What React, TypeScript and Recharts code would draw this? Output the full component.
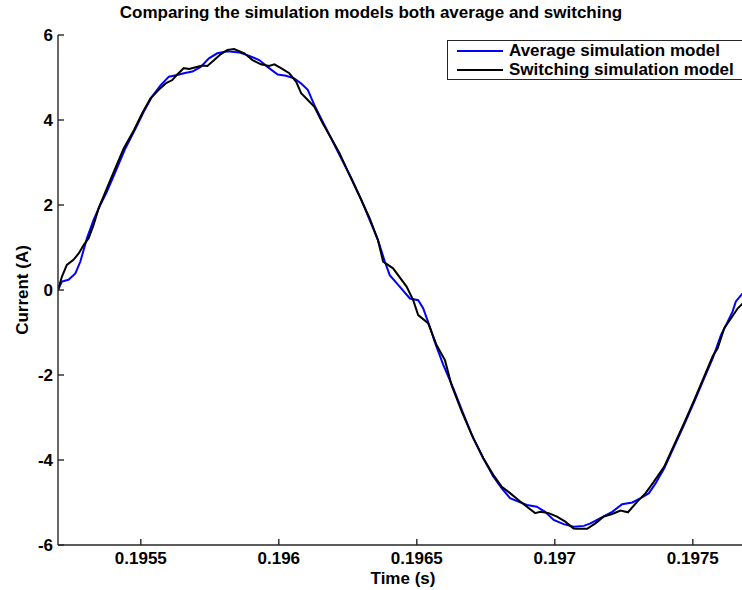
import { LineChart, Line, XAxis, YAxis } from "recharts";

// time (s) and current (A)
const avgTime = [
  0.1952, 0.195214, 0.195238, 0.195263, 0.195281, 0.195305, 0.195329, 0.195353, 0.195377, 0.195408,
  0.195444, 0.195481, 0.195511, 0.195541, 0.195572, 0.195602, 0.195632, 0.195656, 0.195687, 0.195717,
  0.195747, 0.195777, 0.195814, 0.195856, 0.195893, 0.195929, 0.195959, 0.195996, 0.196026, 0.196056,
  0.196081, 0.196105, 0.196129, 0.196159, 0.196196, 0.196226, 0.196263, 0.196299, 0.196329, 0.196359,
  0.196384, 0.196402, 0.196438, 0.196475, 0.196505, 0.196523, 0.196547, 0.196565, 0.196596, 0.196632,
  0.196668, 0.196705, 0.196741, 0.196777, 0.196808, 0.196838, 0.196868, 0.196899, 0.196935, 0.196965,
  0.196996, 0.197032, 0.197068, 0.197105, 0.197129, 0.197165, 0.197208, 0.197244, 0.197281, 0.197311,
  0.197341, 0.197365, 0.197396, 0.197432, 0.197468, 0.197505, 0.197541, 0.197572, 0.197602, 0.197626,
  0.197644, 0.197656, 0.197675, 0.197693,
];
const avgCurrent = [
  0, 0.2, 0.24, 0.39, 0.67, 1.22, 1.65, 2.0, 2.31, 2.78,
  3.33, 3.8, 4.2, 4.55, 4.82, 5.02, 5.06, 5.1, 5.14, 5.25,
  5.45, 5.57, 5.62, 5.59, 5.51, 5.41, 5.25, 5.07, 5.04, 4.98,
  4.86, 4.71, 4.35, 3.96, 3.49, 3.1, 2.63, 2.12, 1.65, 1.18,
  0.67, 0.35, 0.08, -0.2, -0.24, -0.43, -0.86, -1.22, -1.76, -2.31,
  -2.9, -3.49, -3.96, -4.39, -4.67, -4.9, -4.98, -5.06, -5.1, -5.22,
  -5.41, -5.51, -5.57, -5.55, -5.49, -5.37, -5.22, -5.04, -5.0, -4.9,
  -4.78, -4.55, -4.2, -3.69, -3.18, -2.63, -2.08, -1.61, -1.06, -0.75,
  -0.51, -0.27, -0.12, 0.0,
];

const swTime = [
  0.1952, 0.195214, 0.195232, 0.195256, 0.195275, 0.195293, 0.195311, 0.195329, 0.195347, 0.195377,
  0.195402, 0.195438, 0.195475, 0.195505, 0.195535, 0.195565, 0.19559, 0.195614, 0.195632, 0.195656,
  0.195675, 0.195699, 0.195723, 0.195741, 0.195766, 0.19579, 0.195814, 0.195838, 0.195875, 0.195905,
  0.195935, 0.195965, 0.195984, 0.196008, 0.196038, 0.196063, 0.196081, 0.196105, 0.196129, 0.196159,
  0.19619, 0.19622, 0.196256, 0.196293, 0.196329, 0.196359, 0.196378, 0.196414, 0.196463, 0.196487,
  0.196505, 0.196541, 0.196572, 0.196602, 0.196626, 0.196663, 0.196699, 0.196741, 0.196777, 0.196808,
  0.196838, 0.196868, 0.196899, 0.196929, 0.196947, 0.196978, 0.197008, 0.197038, 0.197068, 0.197081,
  0.197117, 0.197147, 0.197178, 0.197208, 0.197238, 0.197265, 0.197299, 0.197329, 0.197359, 0.197396,
  0.197432, 0.197468, 0.197505, 0.197541, 0.197572, 0.19759, 0.197614, 0.197638, 0.197663, 0.197682,
  0.1977,
];
const swCurrent = [
  0, 0.31, 0.59, 0.71, 0.86, 1.06, 1.22, 1.53, 1.92, 2.39,
  2.78, 3.33, 3.76, 4.16, 4.51, 4.71, 4.86, 4.94, 5.07, 5.22,
  5.2, 5.24, 5.28, 5.27, 5.41, 5.55, 5.65, 5.67, 5.57, 5.41,
  5.31, 5.27, 5.31, 5.22, 5.1, 4.9, 4.63, 4.47, 4.31, 3.92,
  3.57, 3.22, 2.71, 2.2, 1.69, 1.18, 0.67, 0.51, 0.08, -0.24,
  -0.59, -0.78, -1.3, -1.65, -2.24, -2.86, -3.41, -3.96, -4.35, -4.63,
  -4.78, -4.94, -5.1, -5.25, -5.22, -5.25, -5.33, -5.45, -5.61, -5.62,
  -5.62, -5.49, -5.33, -5.27, -5.19, -5.23, -4.98, -4.78, -4.51, -4.16,
  -3.65, -3.14, -2.59, -2.04, -1.56, -1.37, -0.9, -0.67, -0.43, -0.31,
  -0.15,
];

const timeTicks = [0.1955, 0.196, 0.1965, 0.197, 0.1975];
const timeTickLabels = ["0.1955", "0.196", "0.1965", "0.197", "0.1975"];
const currentTicks = [-6, -4, -2, 0, 2, 4, 6];
const seriesNames = ["Average simulation model", "Switching simulation model"];
const seriesColors = ["#0000ff", "#000000"];

const avgData = avgTime.map((t, k) => ({ t, amp: avgCurrent[k] }));
const swData = swTime.map((t, k) => ({ t, amp: swCurrent[k] }));

const FONT = '"Liberation Sans", Arial, Helvetica, sans-serif';
const tickStyle = { fill: "#000", fontSize: 17, fontWeight: 700, fontFamily: FONT };
const axisColor = "#262626";

const timeLabel = (v: number) => {
  const k = timeTicks.findIndex((x) => Math.abs(x - v) < 1e-9);
  return k >= 0 ? timeTickLabels[k] : "";
};

export default function App() {
  return (
    <div
      style={{
        position: "absolute",
        left: 0,
        top: 0,
        width: 742,
        height: 590,
        overflow: "hidden",
        background: "#fff",
        fontFamily: FONT,
      }}
    >
      <div
        style={{
          position: "absolute",
          left: 0,
          width: 742,
          top: 4,
          textAlign: "center",
          fontSize: 17,
          fontWeight: 700,
          lineHeight: "17px",
          color: "#000",
        }}
      >
        Comparing the simulation models both average and switching
      </div>

      <LineChart width={760} height={590} margin={{ top: 35, right: 12, bottom: 0, left: 0 }}>
        <XAxis
          xAxisId="bottom"
          dataKey="t"
          type="number"
          domain={[0.1952, 0.1977]}
          allowDataOverflow
          ticks={timeTicks}
          tickFormatter={timeLabel}
          height={45}
          tickSize={-6}
          tickMargin={13}
          tick={tickStyle}
          stroke={axisColor}
          strokeWidth={1.4}
          label={{
            value: "Time (s)",
            position: "insideBottom",
            offset: 6,
            style: { fill: "#000", fontSize: 17, fontWeight: 700, fontFamily: FONT },
          }}
        />
        <XAxis
          xAxisId="top"
          orientation="top"
          dataKey="t"
          type="number"
          domain={[0.1952, 0.1977]}
          allowDataOverflow
          ticks={timeTicks}
          tickFormatter={() => ""}
          height={0}
          tickSize={-6}
          stroke={axisColor}
          strokeWidth={1.4}
        />
        <YAxis
          yAxisId="left"
          type="number"
          domain={[-6, 6]}
          allowDataOverflow
          ticks={currentTicks}
          width={58}
          tickSize={-6}
          tickMargin={11}
          tick={tickStyle}
          stroke={axisColor}
          strokeWidth={1.4}
          label={{
            value: "Current (A)",
            angle: -90,
            position: "insideLeft",
            offset: 22,
            style: { textAnchor: "middle", fill: "#000", fontSize: 17, fontWeight: 700, fontFamily: FONT },
          }}
        />
        <Line
          xAxisId="bottom"
          yAxisId="left"
          data={avgData}
          dataKey="amp"
          name={seriesNames[0]}
          type="linear"
          stroke={seriesColors[0]}
          strokeWidth={2}
          dot={false}
          isAnimationActive={false}
        />
        <Line
          xAxisId="bottom"
          yAxisId="left"
          data={swData}
          dataKey="amp"
          name={seriesNames[1]}
          type="linear"
          stroke={seriesColors[1]}
          strokeWidth={2}
          dot={false}
          isAnimationActive={false}
        />
      </LineChart>

      <div
        style={{
          position: "absolute",
          left: 447,
          top: 40,
          width: 297,
          height: 40,
          boxSizing: "border-box",
          border: `1.4px solid ${axisColor}`,
          background: "#fff",
        }}
      >
        {seriesNames.map((name, k) => (
          <div
            key={name}
            style={{
              position: "absolute",
              left: 9,
              top: 0 + k * 19,
              height: 19,
              lineHeight: "19px",
              display: "flex",
              alignItems: "center",
              whiteSpace: "nowrap",
            }}
          >
            <span style={{ display: "inline-block", width: 46, height: 2, background: seriesColors[k] }} />
            <span style={{ marginLeft: 6, fontSize: 17, fontWeight: 700, color: "#000" }}>{name}</span>
          </div>
        ))}
      </div>
    </div>
  );
}
